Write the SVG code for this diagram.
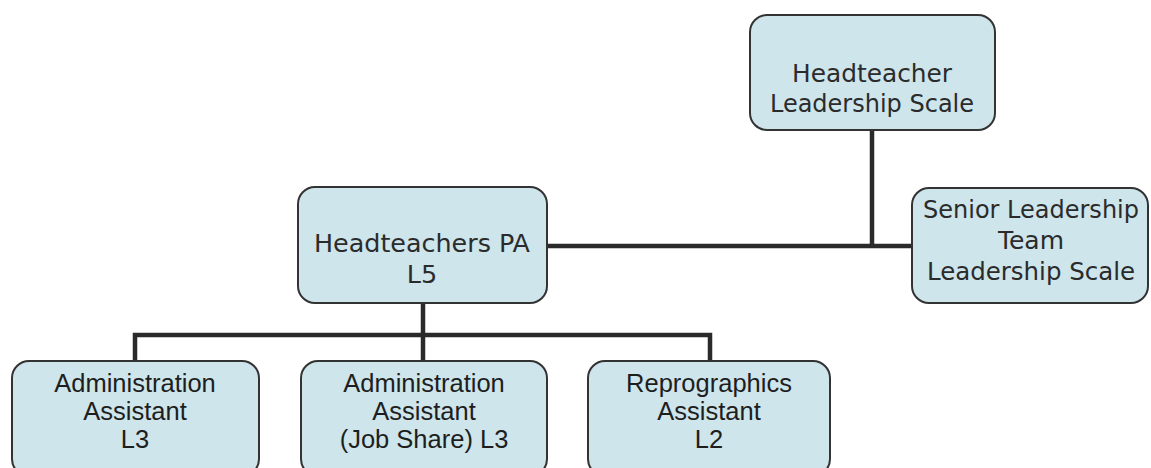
<svg xmlns="http://www.w3.org/2000/svg" width="1151" height="468" viewBox="0 0 1151 468">
<style>
.box{fill:#cde5eb;stroke:#333;stroke-width:2}
.cg{font-family:"DejaVu Sans",sans-serif;fill:#2b2b2b;text-anchor:middle}
.ar{font-family:"Liberation Sans",Arial,sans-serif;font-size:25.5px;fill:#1e1e1e;text-anchor:middle}
.con{fill:none;stroke:#2a2a2a;stroke-width:4.5}
</style>
<rect width="1151" height="468" fill="#fff"/>
<g id="connectors">
<path class="con" d="M872 130 V246"/>
<path class="con" d="M547 246 H912"/>
<path class="con" d="M423 303 V361"/>
<path class="con" d="M135 361 V335 H710 V361"/>
</g>
<g id="headteacher">
<rect class="box" x="750" y="15" width="245" height="115" rx="17"/>
<text class="cg" font-size="24" x="872" y="82" textLength="160" lengthAdjust="spacingAndGlyphs">Headteacher</text>
<text class="cg" font-size="24" x="872" y="112">Leadership Scale</text>
</g>
<g id="pa">
<rect class="box" x="298" y="187" width="249" height="116" rx="17"/>
<text class="cg" font-size="25.5" x="422" y="252" textLength="216" lengthAdjust="spacingAndGlyphs">Headteachers PA</text>
<text class="cg" font-size="25.5" x="422" y="283">L5</text>
</g>
<g id="slt">
<rect class="box" x="912" y="188" width="236" height="115" rx="17"/>
<text class="cg" font-size="25" x="1031" y="218" textLength="216" lengthAdjust="spacingAndGlyphs">Senior Leadership</text>
<text class="cg" font-size="25" x="1031" y="249">Team</text>
<text class="cg" font-size="25" x="1031" y="280" textLength="208" lengthAdjust="spacingAndGlyphs">Leadership Scale</text>
</g>
<g id="admin1">
<rect class="box" x="12" y="361" width="247" height="115" rx="17"/>
<text class="ar" x="135" y="392">Administration</text>
<text class="ar" x="135" y="420">Assistant</text>
<text class="ar" x="135" y="448">L3</text>
</g>
<g id="admin2">
<rect class="box" x="301" y="361" width="246" height="115" rx="17"/>
<text class="ar" x="424" y="392">Administration</text>
<text class="ar" x="424" y="420">Assistant</text>
<text class="ar" x="424" y="448">(Job Share) L3</text>
</g>
<g id="repro">
<rect class="box" x="588" y="361" width="242" height="115" rx="17"/>
<text class="ar" x="709" y="392">Reprographics</text>
<text class="ar" x="709" y="420">Assistant</text>
<text class="ar" x="709" y="448">L2</text>
</g>
</svg>
